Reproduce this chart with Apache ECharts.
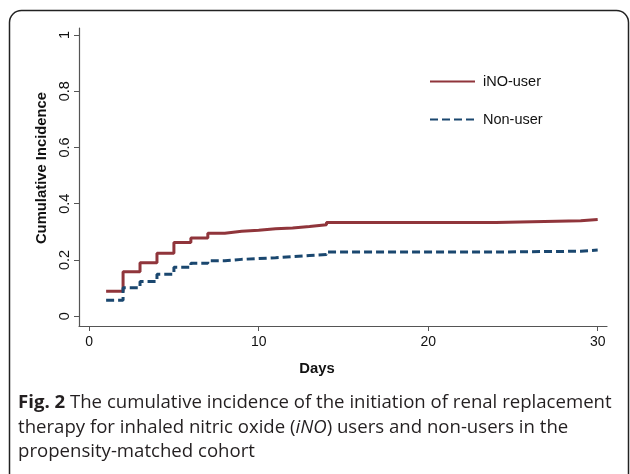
<!DOCTYPE html>
<html>
<head>
<meta charset="utf-8">
<script src="https://cdn.jsdelivr.net/npm/echarts@6/dist/echarts.min.js"></script>
<style>
html,body{margin:0;padding:0;background:#fff;}
#chart{width:630px;height:474px;}
</style>
</head>
<body>
<div id="chart"></div>
<script>
// Data
const days    = [1, 2, 3, 4, 5, 6, 7, 8, 9, 10, 11, 12, 13, 14, 24, 29, 30];
const inoUser = [0.089, 0.158, 0.190, 0.224, 0.262, 0.278, 0.295, 0.302, 0.306, 0.311, 0.314, 0.319, 0.325, 0.333, 0.339, 0.344, 0.344];
const nonUser = [0.057, 0.101, 0.123, 0.149, 0.174, 0.188, 0.197, 0.202, 0.205, 0.208, 0.212, 0.216, 0.219, 0.228, 0.231, 0.235, 0.235];
const xTicks = [0, 10, 20, 30];
const yTicks = [0, 0.2, 0.4, 0.6, 0.8, 1];
const seriesNames = ['iNO-user', 'Non-user'];
const yTitle = 'Cumulative Incidence';
const xTitle = 'Days';

// Build step-function (value held until next event) from the arrays
function stepData(xs, ys) {
  const out = [];
  for (let i = 0; i < xs.length; i++) {
    out.push([xs[i], ys[i]]);
    if (i + 1 < xs.length) out.push([xs[i + 1], ys[i]]);
  }
  return out;
}

const chart = echarts.init(document.getElementById('chart'), null, {renderer: 'canvas'});
const axisColor = '#555';
const font = 'Liberation Sans, Arial, sans-serif';
const capFont = 'Open Sans';

chart.setOption({
  animation: false,
  backgroundColor: '#fff',
  grid: {left: 79, right: 23, top: 28, bottom: 148, containLabel: false},
  xAxis: {
    type: 'value', min: -0.6, max: 30.55,
    splitLine: {show: false},
    axisLine: {show: true, onZero: false, lineStyle: {color: axisColor, width: 1.2}},
    axisTick: {show: true, customValues: xTicks, length: 5, lineStyle: {color: axisColor}},
    axisLabel: {customValues: xTicks, margin: 9, color: '#111', fontSize: 14, fontFamily: font}
  },
  yAxis: {
    type: 'value', min: -0.035, max: 1.025,
    splitLine: {show: false},
    axisLine: {show: true, onZero: false, lineStyle: {color: axisColor, width: 1.2}},
    axisTick: {show: true, customValues: yTicks, length: 5, lineStyle: {color: axisColor}},
    axisLabel: {customValues: yTicks, rotate: 90, margin: 7, color: '#111', fontSize: 14.5, fontFamily: font}
  },
  legend: {
    orient: 'vertical', left: 429, top: 74, itemGap: 23, padding: 0,
    itemWidth: 45, itemHeight: 14,
    itemStyle: {opacity: 0},
    textStyle: {fontSize: 14.5, fontFamily: font, color: '#111', padding: [0, 0, 0, 3]},
    data: seriesNames
  },
  series: [
    {name: seriesNames[0], type: 'line', symbol: 'none',
     lineStyle: {color: '#90353b', width: 3}, itemStyle: {color: '#90353b'},
     data: stepData(days, inoUser)},
    {name: seriesNames[1], type: 'line', symbol: 'none',
     lineStyle: {color: '#1a476f', width: 3, type: [8, 4]}, itemStyle: {color: '#1a476f'},
     data: stepData(days, nonUser)}
  ],
  graphic: [
    {type: 'rect', shape: {x: 9.5, y: 10.5, width: 619, height: 520, r: 12},
     style: {fill: 'none', stroke: '#222', lineWidth: 1.5}, silent: true},
    {type: 'text', x: 42, y: 168, rotation: Math.PI / 2,
     style: {text: yTitle, font: 'bold 14.8px ' + font, fill: '#111', align: 'center', verticalAlign: 'middle'}},
    {type: 'text', x: 317, y: 369,
     style: {text: xTitle, font: 'bold 14.8px ' + font, fill: '#111', align: 'center', verticalAlign: 'middle'}},
    {type: 'text', x: 18, y: 403,
     style: {text: '{b|Fig. 2} The cumulative incidence of the initiation of renal replacement',
       rich: {b: {fontWeight: 'bold', fontSize: 18.6, fontFamily: capFont, fill: '#231f20'}},
       fontSize: 18.6, fontFamily: capFont, fill: '#231f20', verticalAlign: 'middle'}},
    {type: 'text', x: 18, y: 428,
     style: {text: 'therapy for inhaled nitric oxide ({i|iNO}) users and non-users in the',
       rich: {i: {fontStyle: 'italic', fontSize: 18.6, fontFamily: capFont, fill: '#231f20'}},
       fontSize: 18.6, fontFamily: capFont, fill: '#231f20', verticalAlign: 'middle'}},
    {type: 'text', x: 18, y: 452,
     style: {text: 'propensity-matched cohort',
       fontSize: 18.6, fontFamily: capFont, fill: '#231f20', verticalAlign: 'middle'}}
  ]
});
</script>
</body>
</html>
